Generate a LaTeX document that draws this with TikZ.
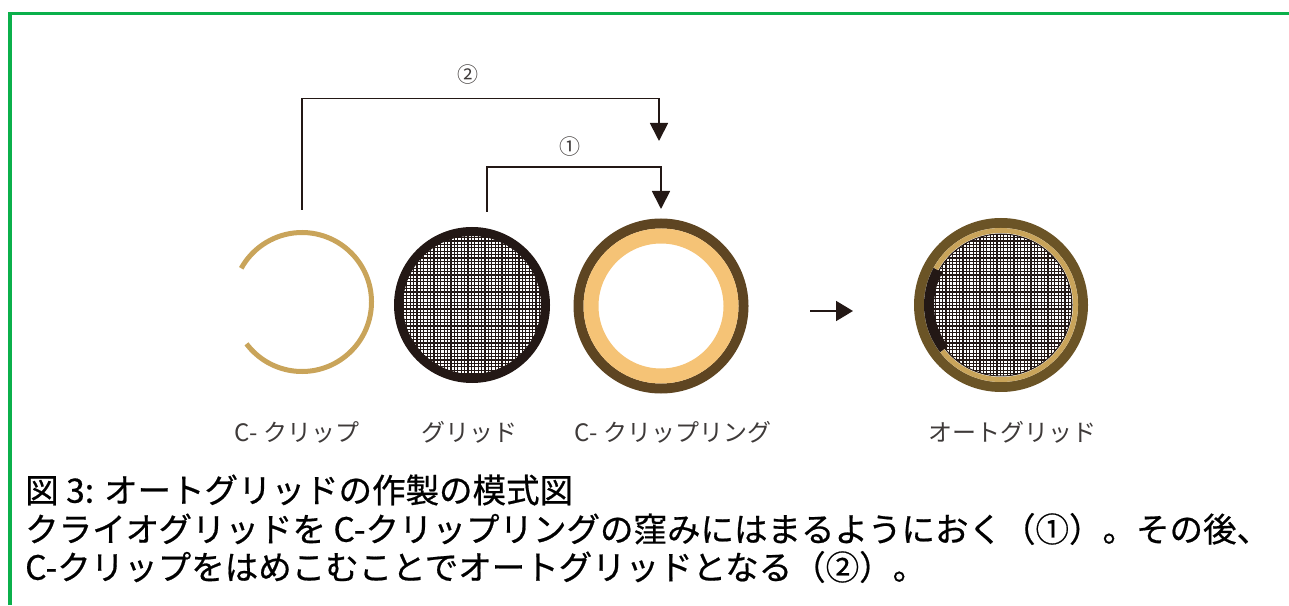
\documentclass[tikz,border=0pt]{standalone}
\usepackage{fontspec}
\setmainfont{Noto Sans CJK JP}
\newfontfamily\capfont[FakeBold=0.6]{Noto Sans CJK JP}
\usetikzlibrary{arrows.meta}
\definecolor{clipgold}{HTML}{C9A45A}
\definecolor{gridrim}{HTML}{231815}
\definecolor{ringbrown}{HTML}{5E4522}
\definecolor{ringtan}{HTML}{F5C376}
\definecolor{autobrown}{HTML}{6B5426}
\definecolor{framegreen}{HTML}{0BB04B}
\definecolor{labelgray}{HTML}{3E3A39}

\begin{document}
\begin{tikzpicture}[x=1pt,y=1pt,
		meshline/.style={line width=1.15pt,draw=gridrim},
		pathline/.style={line width=1.8pt,draw=gridrim,-{Triangle[width=18pt,length=18pt]}},
		partname/.style={text=labelgray,font=\fontsize{24}{24}\selectfont},
		stepnum/.style={text=labelgray,font=\fontsize{21}{21}\selectfont},
		captionline/.style={anchor=west,inner sep=0pt,font=\capfont\fontsize{33.5}{33.5}\selectfont}]
					\useasboundingbox (0,0) rectangle (1289,605);
					\draw[framegreen,line width=3.5pt] (10,0) -- (10,591.7) -- (1289,591.7);
					
					\coordinate (Clip) at (302,303);
					\coordinate (Grid) at (472,300);
					\coordinate (Ring) at (661,299);
					\coordinate (Auto) at (1001,300);
					
					% C-clip: open ring, gap on the left
					\draw[clipgold,line width=5pt] ([shift={(-143:69.5)}]Clip)
					arc[start angle=-143,end angle=151,radius=69.5pt];
					
					% grid: mesh inside a dark rim
					\begin{scope}[shift={(Grid)}]
						\clip (0,0) circle[radius=70pt];
						\foreach \k in {-72,-68.6,...,72}{% vertical and horizontal bars
							\draw[meshline] (\k,-72) -- (\k,72);
							\draw[meshline] (-72,\k) -- (72,\k);
						}
					\end{scope}
					\draw[gridrim,line width=9pt] (Grid) circle[radius=73.5pt];
					
					% C-clip ring
					\draw[ringbrown,line width=10pt] (Ring) circle[radius=82.5pt];
					\draw[ringtan,line width=15pt] (Ring) circle[radius=70pt];
					
					% autogrid = ring + grid + clip
					\fill[autobrown] (Auto) circle[radius=87pt];
					\fill[white] (Auto) circle[radius=77pt];
					\begin{scope}[shift={(Auto)}]
						\clip (0,0) circle[radius=71pt];
						\foreach \k in {-72,-68.6,...,72}{%
							\draw[meshline] (\k,-72) -- (\k,72);
							\draw[meshline] (-72,\k) -- (72,\k);
						}
					\end{scope}
					\draw[gridrim,line width=1pt] (Auto) circle[radius=71pt];
					\draw[gridrim,line width=10pt] ([shift={(151:72)}]Auto)
					arc[start angle=151,end angle=218,radius=72pt];
					\draw[clipgold,line width=5pt] ([shift={(-142:74.5)}]Auto)
					arc[start angle=-142,end angle=151,radius=74.5pt];
					
					% step 2: clip into ring
					\coordinate (Cliptop) at (302,395);
					\coordinate (Twoleft) at (302,506.5);
					\coordinate (Tworight) at (659,506.5);
					\coordinate (Twotip) at (659,464);
					\draw[pathline] (Cliptop) -- (Twoleft) -- (Tworight) -- (Twotip);
					\node[stepnum] (Two) at (468,530) {②};
					
					% step 1: grid into ring
					\coordinate (Gridtop) at (487,393);
					\coordinate (Oneleft) at (487,438);
					\coordinate (Oneright) at (661,438);
					\coordinate (Onetip) at (661,396);
					\draw[pathline] (Gridtop) -- (Oneleft) -- (Oneright) -- (Onetip);
					\node[stepnum] (One) at (570,458) {①};
					
					\coordinate (Nextstart) at (810,294);
					\coordinate (Nextend) at (853,294);
					\draw[pathline,-{Triangle[width=20pt,length=17pt]}] (Nextstart) -- (Nextend);
					
					\node[partname] (Clipname) at (297,173) {C- クリップ};
					\node[partname] (Gridname) at (469,173) {グリッド};
					\node[partname] (Ringname) at (673,173) {C- クリップリング};
					\node[partname] (Autoname) at (1012,173) {オートグリッド};
					
					\node[captionline] (Title) at (25,115) {図 3: オートグリッドの作製の模式図};
					\node[captionline] (Stepsone) at (25,76) {クライオグリッドを C-クリップリングの窪みにはまるようにおく（①）。その後、};
					\node[captionline] (Stepstwo) at (25,38) {C-クリップをはめこむことでオートグリッドとなる（②）。};
					
\end{tikzpicture}
\end{document}
